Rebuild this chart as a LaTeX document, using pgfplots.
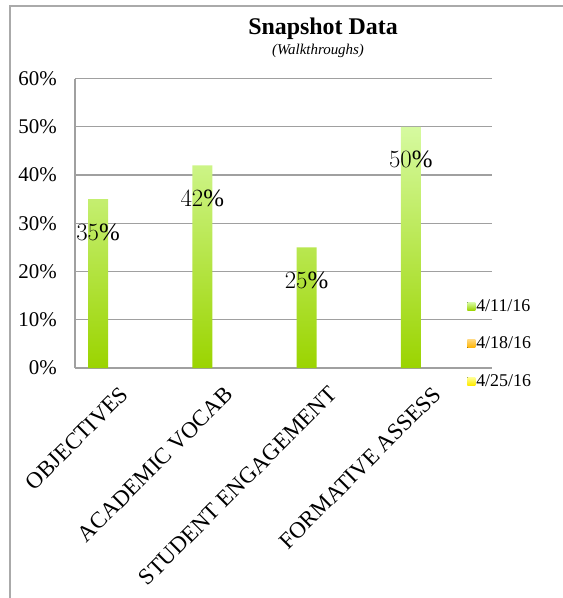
\documentclass[border=0pt]{standalone}
\usepackage{pgfplots}
\pgfplotsset{compat=1.18}
\usepackage{fontspec}
\setmainfont{Liberation Serif}
\definecolor{gtop}{RGB}{214,250,160}
\definecolor{gbot}{RGB}{155,212,0}
\definecolor{otop}{RGB}{255,215,120}
\definecolor{obot}{RGB}{255,180,0}
\definecolor{ytop}{RGB}{255,255,150}
\definecolor{ybot}{RGB}{255,235,0}
\definecolor{gridgray}{RGB}{160,160,160}
\definecolor{framegray}{RGB}{170,170,170}
\pgfplotsset{mylegend/.style={legend image code/.code={\fill[##1] (0bp,-4bp) rectangle (8bp,4bp);}}}
\begin{document}
\begin{tikzpicture}
\path[use as bounding box] (0,0) rectangle (563bp,-598bp);
\draw[framegray, line width=2bp] (10bp,-598bp) -- (10bp,-5.7bp) -- (563bp,-5.7bp);
\node[font=\fontsize{24}{28}\selectfont\bfseries, anchor=base] at (323bp,-34bp) {Snapshot Data};
\node[font=\fontsize{15}{18}\selectfont\itshape, anchor=base] at (318bp,-54bp) {(Walkthroughs)};
\begin{axis}[
  at={(75bp,-368bp)}, anchor=south west,
  scale only axis, width=417bp, height=289.5bp,
  xmin=-0.5, xmax=3.5, ymin=0, ymax=60,
  axis x line*=bottom, axis y line*=left,
  axis line style={gridgray, line width=1.2bp},
  ymajorgrids, grid style={gridgray, line width=1.2bp},
  major tick length=0pt,
  xtick={0,1,2,3},
  xticklabels={OBJECTIVES, ACADEMIC VOCAB, STUDENT ENGAGEMENT, FORMATIVE ASSESS},
  xticklabel style={xshift=-8bp, yshift=-17bp, rotate=45, anchor=north east, font=\fontsize{23}{26}\selectfont, inner sep=0pt},
  ytick={0,10,...,60},
  yticklabels={0\%,10\%,20\%,30\%,40\%,50\%,60\%},
  yticklabel style={font=\fontsize{21}{24}\selectfont, inner sep=0pt, xshift=-18bp},
  ybar, bar width=20bp,
  legend style={at={(axis description cs:0.9330,0.247)}, anchor=north west, draw=none, fill=none, font=\fontsize{18}{21}\selectfont, row sep=22bp, nodes={inner sep=1bp}},
  legend cell align=left,
]
\addplot[bar shift=-29bp, draw=none, top color=gtop, bottom color=gbot, mylegend] coordinates {(0,35) (1,42) (2,25) (3,50)};
\addlegendentry{4/11/16}
\addlegendimage{top color=otop, bottom color=obot, draw=none, mylegend}
\addlegendentry{4/18/16}
\addlegendimage{top color=ytop, bottom color=ybot, draw=none, mylegend}
\addlegendentry{4/25/16}
\addplot[bar shift=-29bp, draw=none, fill=none, forget plot,
  nodes near coords={\pgfmathprintnumber{\pgfplotspointmeta}\%},
  every node near coord/.append style={anchor=center, yshift=-33bp, font=\fontsize{25}{28}\selectfont, text=black}]
  coordinates {(0,35) (1,42) (2,25) (3,50)};
\end{axis}
\end{tikzpicture}
\end{document}
